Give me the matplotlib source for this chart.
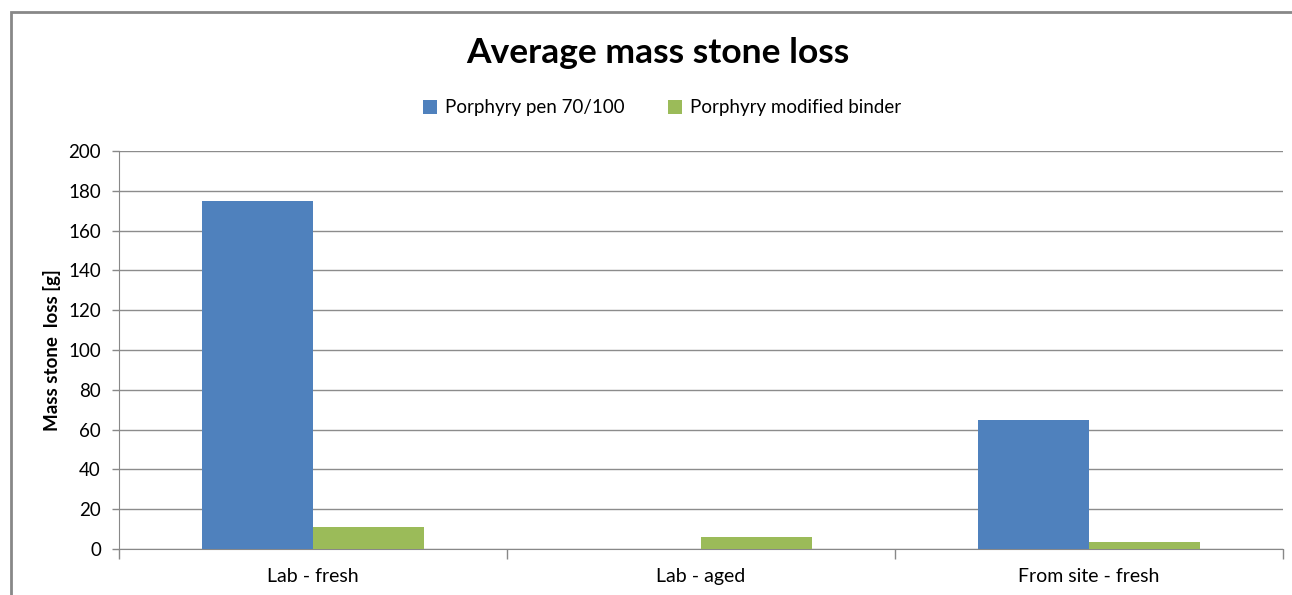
import matplotlib
matplotlib.use("Agg")
import matplotlib.pyplot as plt
import numpy as np
from matplotlib.patches import Rectangle

categories = ["Lab - fresh", "Lab - aged", "From site - fresh"]
series_names = ["Porphyry pen 70/100", "Porphyry modified binder"]
pen_values = [175, 0, 65]
modified_values = [11, 6, 3.7]
y_ticks = [0, 20, 40, 60, 80, 100, 120, 140, 160, 180, 200]

plt.rcParams['font.family'] = ['Lato', 'DejaVu Sans']

W, H = 1292, 595
fig = plt.figure(figsize=(W / 100, H / 100), dpi=100)
ax = fig.add_axes([119 / W, 1 - 549 / H, (1283 - 119) / W, (549 - 151) / H])

blue = "#4F81BD"
green = "#9BBB59"
x = np.arange(len(categories))
w = 1 / 3.5
ax.bar(x - w / 2, pen_values, width=w, color=blue, label=series_names[0], zorder=3)
ax.bar(x + w / 2, modified_values, width=w, color=green, label=series_names[1], zorder=3)

ax.set_xlim(-0.5, len(categories) - 0.5)
ax.set_ylim(0, 200)
ax.set_yticks(y_ticks)
ax.set_yticklabels([str(v) for v in y_ticks], fontsize=13.5, color="#000000")
ax.set_xticks(x)
ax.set_xticklabels(categories, fontsize=14)
ax.tick_params(axis='x', length=0, pad=14)
ax.tick_params(axis='y', length=5, color="#888888", pad=8, width=1)
ax.set_xticks(np.arange(-0.5, len(categories), 1.0), minor=True)
ax.tick_params(axis='x', which='minor', length=7, color="#888888", width=1)

ax.yaxis.grid(True, color="#8c8c8c", linewidth=1, zorder=0)
ax.set_axisbelow(True)
for s in ["top", "right"]:
    ax.spines[s].set_visible(False)
ax.spines["left"].set_color("#888888")
ax.spines["bottom"].set_color("#888888")

ax.set_ylabel("Mass stone  loss [g]", fontsize=13.5, fontweight="bold", labelpad=5)

fig.text(658 / W, 1 - 53 / H, "Average mass stone loss", ha="center", va="center",
         fontsize=25.5, fontweight="bold")

leg = fig.legend(loc="center", bbox_to_anchor=(662 / W, 1 - 108 / H), ncol=2,
                 frameon=False, fontsize=13.5, handlelength=0.75, handleheight=0.75,
                 columnspacing=2.3, handletextpad=0.45)

fig.patches.append(Rectangle((10.5 / W, -0.1), 1.2, 1 - 12 / H + 0.1,
                             transform=fig.transFigure, fill=False,
                             edgecolor="#888888", linewidth=2, clip_on=False))

fig.savefig("out.png", dpi=100)
